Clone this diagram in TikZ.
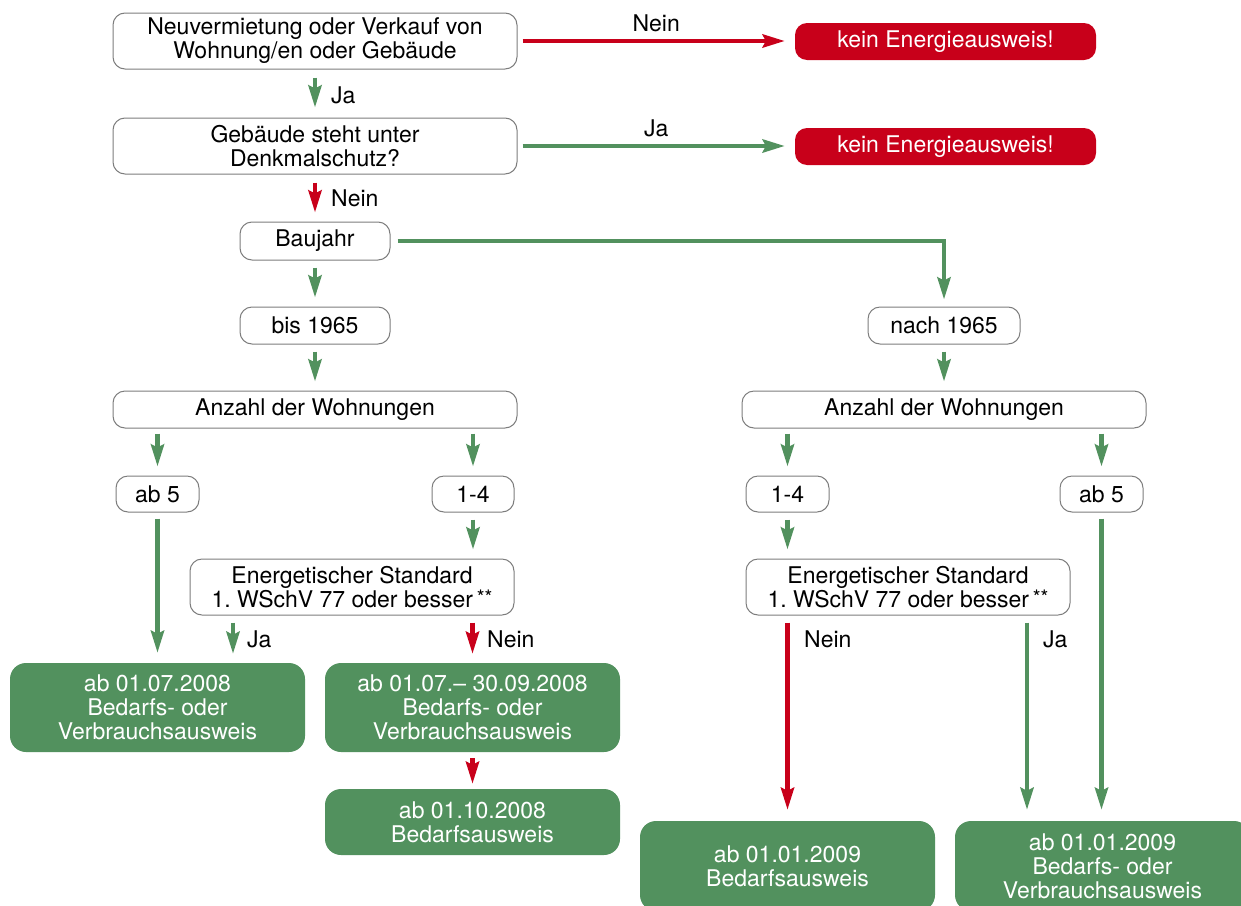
\documentclass[tikz,border=0pt]{standalone}
\usepackage{fontspec}
\setmainfont{TeX Gyre Heros}
\usetikzlibrary{arrows.meta,calc}
\definecolor{mygreen}{RGB}{82,145,94}
\definecolor{myred}{RGB}{200,0,26}
\definecolor{bordergray}{RGB}{125,125,125}
\frenchspacing
\tikzset{
  base/.style={align=center,inner sep=0pt,font=\fontsize{23}{24}\selectfont},
  wbox/.style={base,draw=bordergray,line width=1pt,fill=white,rounded corners=12pt},
  rbox/.style={base,fill=myred,text=white,rounded corners=12pt},
  gbox/.style={base,fill=mygreen,text=white,rounded corners=16pt},
  conn/.style={line width=4.5pt,-{Stealth[length=22pt,width=13pt,inset=3pt]}},
  garrow/.style={conn,draw=mygreen},
  rarrow/.style={conn,draw=myred},
  vgap/.style={shorten <=7pt,shorten >=9pt},
  lbl/.style={base,anchor=west},
}
\newcommand{\stars}{\,\raisebox{0.25ex}{\fontsize{20}{20}\selectfont**}}
\begin{document}
\begin{tikzpicture}[x=1pt,y=-1pt]
\useasboundingbox (0,0) rectangle (1241,905);
\clip (0,0) rectangle (1241,905);
% nodes
\node[wbox,minimum width=404pt,minimum height=56pt] (A) at (315,41) {Neuvermietung oder Verkauf von\\Wohnung/en oder Gebäude};
\node[rbox,minimum width=301pt,minimum height=37pt] (R1) at (945.5,41.5) {kein Energieausweis!};
\node[wbox,minimum width=404pt,minimum height=56pt] (B) at (315,146) {Gebäude steht unter\\Denkmalschutz?};
\node[rbox,minimum width=301pt,minimum height=37pt] (R2) at (945.5,146.5) {kein Energieausweis!};
\node[wbox,minimum width=150pt,minimum height=38pt] (BJ) at (315,241) {Baujahr};
\node[wbox,minimum width=150pt,minimum height=37pt] (B65) at (315,325.5) {bis 1965};
\node[wbox,minimum width=152pt,minimum height=37pt] (N65) at (944,325.5) {nach 1965};
\node[wbox,minimum width=404pt,minimum height=37pt] (AZ1) at (315,409.5) {Anzahl der Wohnungen};
\node[wbox,minimum width=404pt,minimum height=37pt] (AZ2) at (944,409.5) {Anzahl der Wohnungen};
\node[wbox,minimum width=83pt,minimum height=36pt] (A5L) at (157.5,494) {ab 5};
\node[wbox,minimum width=82pt,minimum height=36pt] (L14) at (473,494) {1-4};
\node[wbox,minimum width=83pt,minimum height=36pt] (R14) at (787.5,494) {1-4};
\node[wbox,minimum width=83pt,minimum height=36pt] (A5R) at (1101.5,494) {ab 5};
\node[wbox,minimum width=324pt,minimum height=56pt] (E1) at (352,587) {Energetischer Standard\\1. WSchV 77 oder besser\stars};
\node[wbox,minimum width=324pt,minimum height=56pt] (E2) at (908,587) {Energetischer Standard\\1. WSchV 77 oder besser\stars};
\node[gbox,minimum width=295pt,minimum height=89pt] (G1) at (157.5,707.5) {ab 01.07.2008\\Bedarfs- oder\\Verbrauchsausweis};
\node[gbox,minimum width=295pt,minimum height=89pt] (G2) at (472.5,707.5) {ab 01.07.– 30.09.2008\\Bedarfs- oder\\Verbrauchsausweis};
\node[gbox,minimum width=295pt,minimum height=66pt] (G3) at (472.5,822) {ab 01.10.2008\\Bedarfsausweis};
\node[gbox,minimum width=295pt,minimum height=90pt] (G4) at (787.5,866) {ab 01.01.2009\\Bedarfsausweis};
\node[gbox,minimum width=295pt,minimum height=90pt] (G5) at (1102.5,866) {ab 01.01.2009\\Bedarfs- oder\\Verbrauchsausweis};
% top horizontal arrows
\draw[rarrow,shorten <=5pt,shorten >=10pt] (A.east) -- node[base,above=7pt] (n1) {Nein} (A.east -| R1.west);
\draw[garrow,shorten <=5pt,shorten >=10pt] (B.east) -- node[base,above=7pt] (j1) {Ja} (B.east -| R2.west);
% main column
\draw[garrow,shorten <=8pt,shorten >=10pt] (A.south) -- (B.north);
\node[lbl] (j0) at (331,95) {Ja};
\draw[rarrow,shorten <=8pt,shorten >=9pt] (B.south) -- (BJ.north);
\node[lbl] (n0) at (331,198) {Nein};
\draw[garrow,vgap] (BJ.south) -- (B65.north);
\draw[garrow,shorten <=7pt,shorten >=7pt] (BJ.east) -| (N65.north);
\draw[garrow,vgap] (B65.south) -- (AZ1.north);
\draw[garrow,vgap] (N65.south) -- (AZ2.north);
% left branch
\draw[garrow,shorten <=5pt,shorten >=9pt] (AZ1.south -| A5L.north) -- (A5L.north);
\draw[garrow,shorten <=5pt,shorten >=9pt] (AZ1.south -| L14.north) -- (L14.north);
\draw[garrow,shorten <=6pt,shorten >=10pt] (A5L.south) -- (G1.north -| A5L.south);
\draw[garrow,vgap] (L14.south) -- (L14.south |- E1.north);
\coordinate (jx) at (233,0);
\draw[garrow,vgap] (E1.south -| jx) -- (G1.north -| jx);
\node[lbl] (j2) at (247,639) {Ja};
\draw[rarrow,vgap] (E1.south -| G2.north) -- (G2.north);
\node[lbl] (n2) at (487,639) {Nein};
\draw[rarrow,shorten <=6pt,shorten >=5pt] (G2.south) -- (G3.north);
% right branch
\draw[garrow,shorten <=5pt,shorten >=9pt] (AZ2.south -| R14.north) -- (R14.north);
\draw[garrow,shorten <=5pt,shorten >=9pt] (AZ2.south -| A5R.north) -- (A5R.north);
\draw[garrow,vgap] (R14.south) -- (R14.south |- E2.north);
\draw[rarrow,shorten <=7pt,shorten >=11pt] (E2.south -| G4.north) -- (G4.north);
\node[lbl] (n3) at (804,639) {Nein};
\coordinate (jy) at (1027,0);
\draw[garrow,shorten <=7pt,shorten >=11pt] (E2.south -| jy) -- (G5.north -| jy);
\node[lbl] (j3) at (1043,639) {Ja};
\draw[garrow,shorten <=6pt,shorten >=11pt] (A5R.south) -- (G5.north -| A5R.south);
\end{tikzpicture}
\end{document}
